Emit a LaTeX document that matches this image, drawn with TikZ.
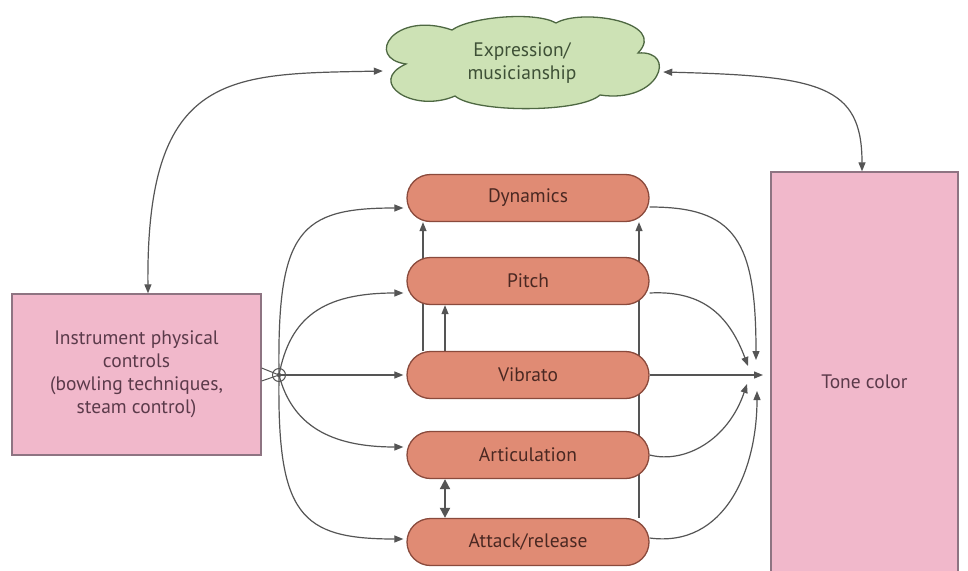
\documentclass[tikz,border=0pt]{standalone}
\usepackage{fontspec}
\setmainfont{PT Sans}
\usetikzlibrary{arrows.meta,calc}
\definecolor{pillfill}{HTML}{E08B74}
\definecolor{pilldraw}{HTML}{8A4A3C}
\definecolor{pilltext}{HTML}{4A2822}
\definecolor{pinkfill}{HTML}{F1B8CB}
\definecolor{pinkdraw}{HTML}{8E7482}
\definecolor{pinktext}{HTML}{5B3A4A}
\definecolor{cloudfill}{HTML}{CDE2B5}
\definecolor{clouddraw}{HTML}{4E6842}
\definecolor{cloudtext}{HTML}{3E5036}
\definecolor{linec}{HTML}{555555}
\pgfdeclarelayer{back}
\pgfdeclarelayer{bg}
\pgfsetlayers{back,bg,main}
\begin{document}
\begin{tikzpicture}[x=1pt,y=-1pt,font=\fontsize{19.5}{23}\selectfont,
  pill/.style={rectangle, rounded corners=23.5pt, minimum width=242pt, minimum height=47pt,
    fill=pillfill, draw=pilldraw, line width=1.3pt, text=pilltext, inner sep=0pt},
  pinkbox/.style={rectangle, fill=pinkfill, draw=pinkdraw, line width=1.3pt, text=pinktext, align=center},
  cloudline/.style={fill=cloudfill, draw=clouddraw, line width=1.3pt, line join=miter},
  conn/.style={draw=linec, line width=1.2pt, -{Triangle[length=9pt,width=7pt]}},
  both/.style={draw=linec, line width=1.2pt, {Triangle[length=9pt,width=7pt]}-{Triangle[length=9pt,width=7pt]}}]
\begin{pgfonlayer}{back}
\fill[white] (0,0) rectangle (968,570);
\end{pgfonlayer}
\useasboundingbox (0,0) rectangle (968,570);

% cloud outline
\draw[cloudline] (406,64) .. controls (364,58) and (394,10) .. (452,30)
  .. controls (470,17) and (535,11) .. (556,23)
  .. controls (582,8) and (668,22) .. (638,53)
  .. controls (678,50) and (660,104) .. (600,95)
  .. controls (580,113) and (475,113) .. (455,96)
  .. controls (413,114) and (366,82) .. cycle;

% nodes
\node[rectangle, minimum width=280pt, minimum height=88pt, text=cloudtext, align=center, inner sep=0pt]
  (expr) at (522,63) {Expression/\\musicianship};
\node[pinkbox, minimum width=249pt, minimum height=161pt] (inst) at (136.5,374.5)
  {Instrument physical\\controls\\(bowling techniques,\\steam control)};
\node[pinkbox, minimum width=187pt, minimum height=420pt] (tone) at (864.5,382) {Tone color};

\node[pill] (dyn)   at (528,198) {Dynamics};
\node[pill] (pitch) at (528,281) {Pitch};
\node[pill] (vib)   at (528,375) {Vibrato};
\node[pill] (art)   at (528,455) {Articulation};
\node[pill] (att)   at (528,542) {Attack/release};

\node[circle, draw=linec, line width=1pt, minimum size=13pt, inner sep=0pt] (jn) at (279,375) {};
\fill[linec] (jn.center) circle (2.2pt);

% convergence points near Tone color
\coordinate (cD) at (756,360);
\coordinate (cP) at (748,366);
\coordinate (cV) at (763,375);
\coordinate (cA) at (747,384);
\coordinate (cR) at (757,391);

% lines behind the pills
\begin{pgfonlayer}{bg}
\draw[conn] ([xshift=-105pt]vib.north) -- ([xshift=-105pt]dyn.south);
\draw[conn] ([xshift=-83pt]vib.north) -- ([xshift=-83pt]pitch.south);
\draw[conn] ([xshift=111pt]att.north) -- ([xshift=111pt]dyn.south);
\end{pgfonlayer}

\draw[draw=linec, line width=2pt, {Triangle[length=10pt,width=10pt]}-{Triangle[length=10pt,width=10pt]}]
  ([xshift=-83pt]art.south) -- ([xshift=-83pt]att.north);

% link box -> junction
\draw[linec, line width=1pt] ([yshift=6.5pt]inst.east) -- (jn.center);
\draw[linec, line width=1pt] ([yshift=-6.5pt]inst.east) -- (jn.center);

% fan to the pills
\draw[conn] (jn.center) .. controls (277,230) and (300,208) .. ([xshift=-3pt,yshift=-10pt]dyn.west);
\draw[conn] (jn.center) .. controls (290,318) and (322,293) .. ([xshift=-3pt,yshift=-12pt]pitch.west);
\draw[conn] (jn.center) -- ([xshift=-3pt]vib.west);
\draw[conn] (jn.center) .. controls (292,425) and (330,447) .. ([xshift=-3pt,yshift=8pt]art.west);
\draw[conn] (jn.center) .. controls (277,515) and (300,539) .. ([xshift=-3pt,yshift=3pt]att.west);

% fan to tone color
\draw[conn] ([yshift=-9pt]dyn.east) .. controls (735,207) and (756,240) .. (cD);
\draw[conn] ([yshift=-12pt]pitch.east) .. controls (705,290) and (730,318) .. (cP);
\draw[conn] (vib.east) -- (cV);
\draw[conn] (art.east) .. controls (685,464) and (728,440) .. (cA);
\draw[conn] ([yshift=4pt]att.east) .. controls (725,548) and (757,470) .. (cR);

% expression links
\draw[both] ([xshift=11.5pt]inst.north) .. controls (146,70) and (230,74) .. ([xshift=1pt,yshift=-8pt]expr.west);
\draw[both] ([xshift=1pt,yshift=-9pt]expr.east) .. controls (820,76) and (862,85) .. ([xshift=-2.5pt]tone.north);
\end{tikzpicture}
\end{document}
